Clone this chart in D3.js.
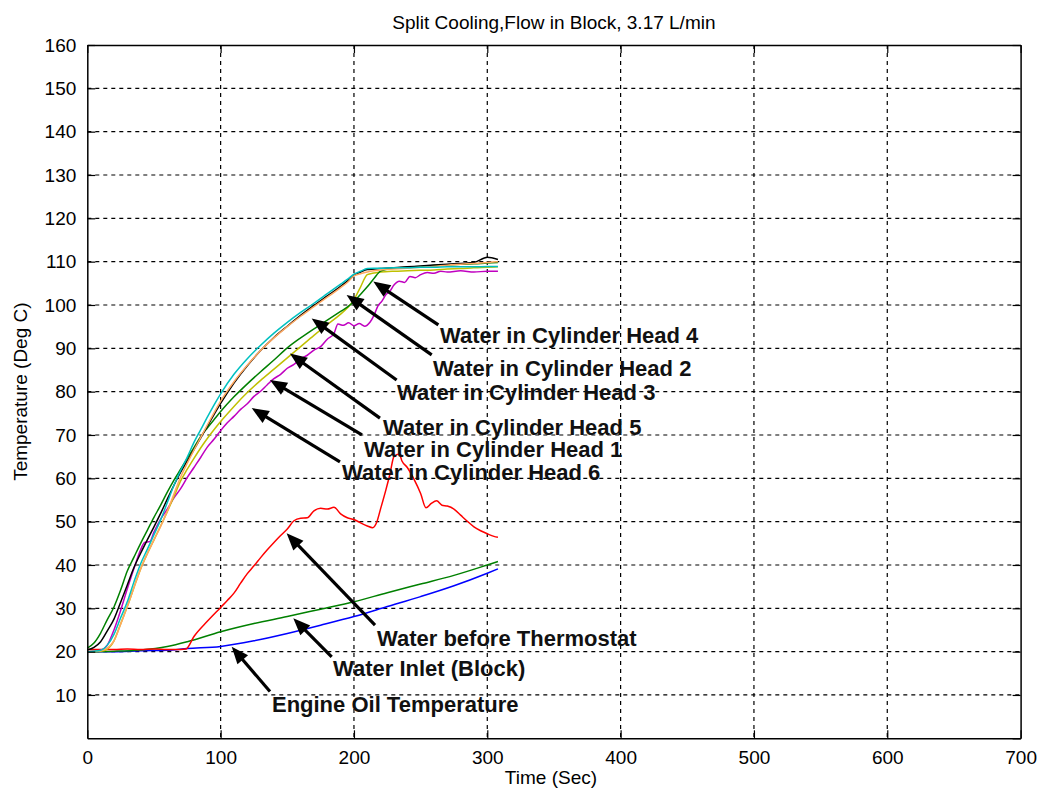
<!DOCTYPE html>
<html>
<head>
<meta charset="utf-8">
<script src="https://cdn.jsdelivr.net/npm/d3@7"></script>
<style>
  body { margin: 0; background: #fff; }
  svg text { font-family: "Liberation Sans", Arial, sans-serif; }
</style>
</head>
<body>
<svg id="chart" width="1038" height="792"></svg>
<script>
// ---- Axis ticks ----
const xTicks = [0, 100, 200, 300, 400, 500, 600, 700];
const yTicks = [0, 10, 20, 30, 40, 50, 60, 70, 80, 90, 100, 110, 120, 130, 140, 150, 160];

// ---- Cylinder head water temperatures (time in s, temperature in deg C) ----
const headTime = [0, 5, 10, 15, 20, 25, 30, 35, 40, 45, 50, 55, 60, 65, 70, 75, 80, 85, 90, 95, 100,
  110, 120, 130, 140, 150, 160, 170, 180, 190, 195, 200, 205, 210, 215, 220, 230, 240, 250, 260,
  270, 280, 290, 300, 308];
const head4 = [20.8, 22.0, 24.3, 27.4, 30.3, 34.2, 38.6, 41.8, 45.0, 48.0, 51.0, 53.8, 56.8, 59.6, 62.1, 64.6, 67.1, 69.6, 71.6, 73.5, 75.4,
  78.8, 81.8, 84.6, 87.3, 90.1, 92.4, 94.5, 96.5, 98.5, 99.5, 100.8, 102.5, 104.2, 106.1, 107.8, 108.5, 108.7, 108.9, 109.1,
  109.3, 109.4, 109.5, 109.7, 109.8];
const head3 = [20.0, 20.1, 20.3, 21.5, 24.0, 27.8, 31.5, 36.1, 40.3, 43.6, 47.0, 50.4, 54.4, 58.4, 61.8, 64.9, 68.3, 71.2, 74.1, 76.9, 79.5,
  84.0, 87.6, 90.7, 93.5, 96.0, 98.3, 100.4, 102.6, 104.8, 105.9, 107.1, 107.8, 108.4, 108.5, 108.5, 108.6, 108.6, 108.7, 108.7,
  108.8, 108.8, 108.8, 108.9, 108.9];
const head2 = [20.0, 20.1, 20.2, 20.8, 22.5, 26.3, 30.4, 34.8, 39.1, 42.6, 45.8, 48.9, 52.4, 56.4, 60.3, 63.5, 66.5, 69.4, 72.3, 75.1, 77.8,
  82.3, 86.1, 89.5, 92.4, 95.0, 97.4, 99.6, 101.8, 104.0, 105.2, 106.7, 107.2, 107.6, 107.9, 108.1, 108.3, 108.5, 108.7, 108.9,
  109.2, 109.4, 109.6, 109.8, 110.0];
const head5 = [20.4, 21.0, 22.3, 24.8, 27.5, 31.4, 35.4, 39.4, 42.7, 45.8, 48.8, 51.9, 55.2, 58.4, 61.4, 64.0, 66.6, 69.3, 72.0, 74.7, 77.3,
  82.0, 86.0, 89.5, 92.5, 95.1, 97.6, 99.9, 102.1, 104.3, 105.5, 106.8, 107.6, 108.2, 108.3, 108.4, 108.6, 108.8, 109.0, 109.2,
  109.4, 109.6, 109.8, 111.0, 110.5];
const head1 = [20.0, 20.0, 20.1, 20.6, 22.5, 26.4, 30.4, 34.8, 39.1, 42.6, 45.8, 49.0, 52.3, 55.8, 59.4, 62.1, 64.6, 67.0, 69.2, 71.2, 73.1,
  76.6, 79.8, 82.6, 85.2, 87.8, 90.4, 93.0, 95.5, 97.9, 99.3, 101.2, 104.2, 107.0, 107.4, 107.6, 107.8, 107.9, 108.0, 108.1,
  108.3, 108.4, 108.6, 108.7, 108.8];

// Head 6 is noisier, so it keeps its own time base
const head6Time = [0, 5, 10, 15, 20, 25, 30, 35, 40, 43, 47, 50, 55, 60, 65, 70, 75, 80, 85, 90, 95, 100, 105, 110, 115, 120,
  125, 130, 135, 140, 145, 150, 155, 160, 165, 170, 175, 180, 185, 188, 192, 196, 200, 204, 208, 212, 215, 218, 221,
  224, 227, 230, 234, 238, 242, 246, 250, 255, 260, 265, 270, 280, 290, 300, 308];
const head6 = [20.0, 20.1, 20.3, 21.5, 25.0, 29.5, 34.5, 39.2, 43.5, 45.2, 45.4, 47.6, 50.6, 52.9, 55.5, 57.6, 60.2, 62.5, 64.8, 67.2,
  69.0, 71.0, 72.8, 74.3, 75.9, 77.2, 78.9, 80.1, 81.6, 83.0, 84.0, 85.4, 86.3, 87.6, 88.4, 89.6, 90.4, 92.1, 93.4, 95.6,
  95.3, 95.9, 95.2, 95.7, 95.1, 96.0, 97.6, 99.8, 100.9, 102.4, 103.2, 104.6, 105.5, 105.2, 106.6, 106.3, 107.0, 107.5,
  107.3, 107.8, 107.6, 107.9, 107.6, 107.8, 107.8];

// ---- Thermostat / block inlet water and engine oil ----
const thermoTime = [0, 10, 20, 30, 40, 50, 60, 70, 74, 80, 90, 100, 105, 110, 115, 120, 125, 130, 135, 140, 145, 150, 155,
  160, 165, 170, 175, 180, 185, 190, 195, 200, 205, 210, 214, 217, 220, 224, 227, 230, 234, 236, 240, 245, 250, 254,
  258, 262, 266, 270, 275, 280, 285, 290, 295, 300, 305, 308];
const thermoTemp = [20.5, 20.5, 20.5, 20.6, 20.5, 20.6, 20.5, 20.5, 20.6, 23.5, 27.0, 30.2, 31.8, 33.5, 35.8, 38.0, 39.8, 41.7,
  43.5, 45.2, 46.8, 48.3, 50.2, 50.8, 50.9, 52.5, 53.1, 52.9, 53.3, 51.8, 50.9, 50.5, 49.7, 49.0, 48.6, 49.8, 53.0, 57.4,
  61.0, 65.0, 65.6, 64.0, 62.5, 59.8, 56.5, 53.2, 54.2, 54.8, 53.8, 53.6, 52.9, 51.5, 50.1, 48.8, 47.9, 47.2, 46.6, 46.4];

const lowTime = [0, 20, 40, 60, 75, 100, 125, 150, 175, 200, 225, 250, 275, 300, 308];
const inletTemp = [20.0, 20.1, 20.4, 21.2, 22.3, 24.6, 26.5, 28.1, 29.8, 31.5, 33.6, 35.6, 37.6, 40.0, 40.8];
const oilTemp = [20.0, 20.0, 20.2, 20.3, 20.7, 21.2, 22.5, 24.2, 26.1, 28.1, 30.4, 32.7, 35.2, 38.1, 39.1];

// ---- Annotation labels and their arrows (data units) ----
const labelText = ["Water in Cylinder Head 4", "Water in Cylinder Head 2", "Water in Cylinder Head 3",
  "Water in Cylinder Head 5", "Water in Cylinder Head 1", "Water in Cylinder Head 6",
  "Water before Thermostat", "Water Inlet (Block)", "Engine Oil Temperature"];
const labelPos = [[264.5, 91.2], [259.3, 83.6], [232.3, 78.0], [221.8, 70.0], [207.5, 64.9], [191, 59.6],
  [217.3, 21.3], [184.3, 14.4], [138.5, 6.1]];
const arrowTail = [[263.3, 95.4], [258.3, 88.5], [232, 82.7], [219.5, 73.9], [206, 70.0], [189.5, 63.8],
  [215.8, 26.1], [183.3, 18.8], [137, 10.8]];
const arrowTip = [[214.5, 105.4], [194.5, 102.3], [168.3, 96.9], [152, 88.8], [137, 82.7], [123.3, 76.2],
  [149.5, 47.3], [154.5, 27.7], [108.3, 21.1]];

// ---- Series table ----
const series = [
  { t: lowTime, v: oilTemp, color: "#0000ff" },
  { t: lowTime, v: inletTemp, color: "#008000" },
  { t: thermoTime, v: thermoTemp, color: "#ff0000" },
  { t: head6Time, v: head6, color: "#c000c0" },
  { t: headTime, v: head1, color: "#c0c000" },
  { t: headTime, v: head4, color: "#008000" },
  { t: headTime, v: head5, color: "#000000" },
  { t: headTime, v: head2, color: "#ffa860" },
  { t: headTime, v: head3, color: "#00c0c0" }
];

const svg = d3.select("#chart");
const W = 1038, H = 792;
svg.append("rect").attr("width", W).attr("height", H).attr("fill", "#fff");

const x = d3.scaleLinear().domain([0, 700]).range([87.3, 1020.6]);
const y = d3.scaleLinear().domain([0, 160]).range([738.3, 45]);
const [x0, x1] = x.range();
const [y0, y1] = y.range();

// Dotted grid
const grid = svg.append("g").attr("stroke", "#000").attr("stroke-width", 1.2)
  .attr("stroke-dasharray", "4,4");
grid.selectAll("line.v").data(xTicks.slice(1, -1)).join("line")
  .attr("x1", d => x(d)).attr("x2", d => x(d)).attr("y1", y1).attr("y2", y0);
grid.selectAll("line.h").data(yTicks.slice(1, -1)).join("line")
  .attr("x1", x0).attr("x2", x1).attr("y1", d => y(d)).attr("y2", d => y(d));

// Data lines
const line = d3.line().x(d => x(d[0])).y(d => y(d[1])).curve(d3.curveMonotoneX);
svg.append("g").selectAll("path").data(series).join("path")
  .attr("d", s => line(s.t.map((t, i) => [t, s.v[i]])))
  .attr("fill", "none").attr("stroke", s => s.color).attr("stroke-width", 1.5)
  .attr("stroke-linejoin", "round");

// Axes with inward ticks on all four sides
const fontSize = 19;
const axisLeftG = svg.append("g").attr("transform", `translate(${x0},0)`)
  .call(d3.axisLeft(y).tickValues(yTicks.filter(v => v > 0)).tickSizeInner(-8).tickSizeOuter(0).tickPadding(11));
const axisBottomG = svg.append("g").attr("transform", `translate(0,${y0})`)
  .call(d3.axisBottom(x).tickValues(xTicks).tickSizeInner(-8).tickSizeOuter(0).tickPadding(12));
const axisRightG = svg.append("g").attr("transform", `translate(${x1},0)`)
  .call(d3.axisRight(y).tickValues(yTicks).tickSizeInner(-8).tickSizeOuter(0).tickFormat(""));
const axisTopG = svg.append("g").attr("transform", `translate(0,${y1})`)
  .call(d3.axisTop(x).tickValues(xTicks).tickSizeInner(-8).tickSizeOuter(0).tickFormat(""));
[axisLeftG, axisBottomG, axisRightG, axisTopG].forEach(g => {
  g.selectAll("path.domain").attr("stroke", "#000").attr("stroke-width", 1.5);
  g.selectAll(".tick line").attr("stroke", "#000").attr("stroke-width", 1.2);
  g.selectAll(".tick text").attr("fill", "#000").attr("font-size", fontSize)
    .attr("font-family", "'Liberation Sans', Arial, sans-serif");
});

// Title and axis titles
svg.append("text").attr("x", (x0 + x1) / 2).attr("y", 29).attr("text-anchor", "middle")
  .attr("font-size", fontSize).text("Split Cooling,Flow in Block, 3.17 L/min");
svg.append("text").attr("x", (x0 + x1) / 2 - 3).attr("y", 784).attr("text-anchor", "middle")
  .attr("font-size", fontSize).text("Time (Sec)");
svg.append("text").attr("transform", `translate(27,${(y0 + y1) / 2}) rotate(-90)`)
  .attr("text-anchor", "middle").attr("font-size", fontSize).text("Temperature (Deg C)");

// Annotation arrows
const arrows = svg.append("g");
arrowTail.forEach((tail, i) => {
  const tip = arrowTip[i];
  const ax = x(tail[0]), ay = y(tail[1]);
  const bx = x(tip[0]), by = y(tip[1]);
  const ang = Math.atan2(by - ay, bx - ax);
  const hl = 17, hw = 7;
  const baseX = bx - hl * Math.cos(ang), baseY = by - hl * Math.sin(ang);
  arrows.append("line").attr("x1", ax).attr("y1", ay).attr("x2", baseX + 3 * Math.cos(ang)).attr("y2", baseY + 3 * Math.sin(ang))
    .attr("stroke", "#000").attr("stroke-width", 3.2);
  const px = -Math.sin(ang), py = Math.cos(ang);
  arrows.append("polygon")
    .attr("points", [[bx, by], [baseX + hw * px, baseY + hw * py], [baseX - hw * px, baseY - hw * py]].map(p => p.join(",")).join(" "))
    .attr("fill", "#000");
});

// Annotation labels
svg.append("g").selectAll("text").data(labelText).join("text")
  .attr("x", (d, i) => x(labelPos[i][0])).attr("y", (d, i) => y(labelPos[i][1]))
  .attr("font-size", 22).attr("font-weight", "bold").attr("fill", "#111")
  .text(d => d);
</script>
</body>
</html>
